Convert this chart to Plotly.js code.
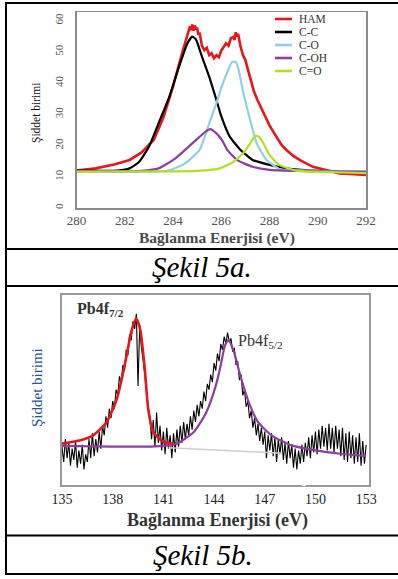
<!DOCTYPE html>
<html>
<head>
<meta charset="utf-8">
<script src="https://cdn.plot.ly/plotly-3.0.1.min.js"></script>
<style>html,body{margin:0;padding:0;background:#fff;}#chart{width:398px;height:579px;}</style>
</head>
<body>
<div id="chart"></div>
<script>
// ---------- Şekil 5a : C1s ----------
const seriesNames = ["HAM", "C-C", "C-O", "C-OH", "C=O"];
const seriesColors = ["#e8161b", "#000000", "#8fd0e6", "#8e3f9f", "#b3e021"];

const hamX = [280, 280.8, 281.6, 282.2, 282.7, 283.2, 283.6, 284.0, 284.3, 284.5, 284.6, 284.7, 284.75, 284.8, 284.85, 284.9, 284.95, 285.0, 285.05, 285.1, 285.2, 285.3, 285.4, 285.5, 285.6, 285.7, 285.8, 285.9, 286.0, 286.1, 286.2, 286.3, 286.4, 286.5, 286.55, 286.6, 286.65, 286.7, 286.8, 286.9, 287.0, 287.1, 287.2, 287.35, 287.5, 287.75, 288.0, 288.2, 288.5, 288.7, 289.0, 289.3, 289.6, 289.8, 290.0, 290.4, 290.9, 291.5, 292];
const hamY = [12.0, 12.7, 14.0, 15.4, 17.8, 21.8, 29.0, 38.9, 47.5, 53.0, 55.5, 58.2, 57.0, 58.8, 56.8, 58.5, 57.2, 57.8, 55.5, 56.2, 52.0, 50.6, 51.3, 49.0, 49.6, 48.0, 49.0, 48.3, 50.4, 51.5, 52.8, 52.0, 54.4, 54.8, 53.8, 56.3, 55.0, 55.8, 51.7, 49.0, 47.4, 44.5, 41.5, 37.5, 34.6, 30.3, 26.5, 23.9, 20.2, 18.6, 16.6, 15.2, 14.0, 13.2, 12.8, 12.0, 11.1, 10.8, 10.6];

const ccX = [280, 281.7, 282.2, 282.6, 283.0, 283.4, 283.85, 284.25, 284.6, 284.8, 284.95, 285.2, 285.5, 285.8, 286.0, 286.35, 286.8, 287.3, 288.0, 288.7, 289.8, 292];
const ccY = [12.0, 12.0, 12.7, 14.8, 19.6, 27.1, 35.7, 45.3, 52.8, 54.9, 54.0, 48.5, 42.1, 34.6, 29.4, 22.9, 18.6, 15.4, 13.8, 12.7, 12.0, 11.7];

const coX = [280, 283.8, 284.5, 285.1, 285.5, 285.8, 286.0, 286.25, 286.45, 286.6, 286.72, 286.92, 287.2, 287.47, 287.88, 288.45, 289.5, 292];
const coY = [11.8, 12.0, 14.3, 18.6, 27.1, 33.6, 38.5, 43.5, 46.8, 46.8, 44.2, 36.8, 28.2, 20.7, 15.4, 12.4, 12.0, 11.8];

const cohX = [280, 282.7, 283.4, 284.1, 284.8, 285.35, 285.55, 285.8, 286.05, 286.25, 286.65, 287.3, 288.0, 289.0, 292];
const cohY = [11.8, 11.9, 12.7, 15.9, 20.7, 24.5, 25.3, 23.9, 21.5, 18.6, 15.4, 13.2, 12.2, 11.9, 11.6];

const cdoX = [280, 285.0, 285.95, 286.5, 286.9, 287.2, 287.4, 287.55, 287.75, 288.0, 288.4, 289.1, 290.5, 292];
const cdoY = [11.7, 11.9, 12.7, 14.8, 17.5, 20.7, 23.1, 22.9, 20.7, 17.0, 13.8, 12.0, 11.5, 11.2];

const xTicksA = [280, 282, 284, 286, 288, 290, 292];
const yTicksA = [0, 10, 20, 30, 40, 50, 60];

// ---------- Şekil 5b : Pb4f ----------
const pbX0 = 135, pbDx = 0.1;
const pbData = [
 20,12,24,14,22,10,19,13,23,9,
 18,11,21,8,16,12,24,14,27,15,
 24,17,28,19,31,26,36,30,40,35,
 44,40,50,47,57,53,63,60,71,68,
 79,76,86,82,90,52,84,72,66,58,
 48,41,36,24,34,20,38,22,31,18,
 28,16,30,19,26,14,27,17,29,20,
 31,22,33,24,32,26,36,29,39,33,
 42,36,44,40,49,44,53,50,58,54,
 64,60,69,65,74,71,78,74,80,75,
 77,70,72,63,65,55,58,47,50,41,
 44,35,39,30,35,26,32,23,30,21,
 28,14,26,18,27,15,25,12,24,16,
 25,13,22,11,23,14,21,9,19,8,
 18,11,21,12,22,15,25,14,26,17,
 28,16,29,19,31,20,30,18,32,19,
 30,17,31,19,29,15,30,13,27,12,
 28,14,26,11,25,12,27,10,23,11,
 21];

const fit72X = [135, 136.1, 136.85, 137.65, 138.25, 138.75, 139.1, 139.38, 139.62, 139.9, 140.1, 140.4, 141.0, 141.6];
const fit72Y = [21.6, 23.4, 26, 33, 45.3, 64.6, 80.4, 87.4, 82.1, 61, 40, 27.7, 22.5, 21.6];

const envX = [135, 137, 139, 140.5, 141.4, 141.8, 142.8, 143.55, 144.1, 144.4, 144.65, 144.85, 145.15, 145.55, 146.05, 146.6, 147.4, 148.6, 150, 151.5, 153];
const envY = [20.4, 20.2, 20.0, 20.2, 20.8, 21.6, 27.7, 38.3, 52, 63, 73.4, 76, 70.7, 57.6, 43.5, 33, 26, 20.7, 18.1, 16.3, 15.1];

const bgX = [141.3, 144, 148];
const bgY = [19.4, 18.3, 16.6];

const xTicksB = [135, 138, 141, 144, 147, 150, 153];
const peakLabels = ["Pb4f<sub>7/2</sub>", "Pb4f<sub>5/2</sub>"];
const peakLabelX = [135.75, 145.3];
const peakLabelY = [92, 75.5];

const axisTitle = "Bağlanma Enerjisi (eV)";
const yTitle = "Şiddet birimi";
const captions = ["Şekil 5a.", "Şekil 5b."];

// ---------- build ----------
const SERIF = 'Liberation Serif, Times New Roman, DejaVu Serif, serif';
const W = 398, H = 579;
const px = v => v / W;
const py = v => 1 - v / H;

const aX = [hamX, ccX, coX, cohX, cdoX];
const aY = [hamY, ccY, coY, cohY, cdoY];
const traces = [];
for (let i = 0; i < seriesNames.length; i++) {
  traces.push({
    x: aX[i], y: aY[i], type: 'scatter', mode: 'lines', name: seriesNames[i],
    line: {color: seriesColors[i], width: i === 0 ? 2.6 : 2.2, shape: i === 0 ? 'linear' : 'spline', smoothing: 0.5},
    xaxis: 'x', yaxis: 'y', showlegend: false, hoverinfo: 'skip'
  });
}
traces.push({y: pbData, x0: pbX0, dx: pbDx, type: 'scatter', mode: 'lines', line: {color: '#000', width: 1.1}, xaxis: 'x2', yaxis: 'y2', showlegend: false});
traces.push({x: bgX, y: bgY, type: 'scatter', mode: 'lines', line: {color: '#cfcfcf', width: 1.5}, xaxis: 'x2', yaxis: 'y2', showlegend: false});
traces.push({x: envX, y: envY, type: 'scatter', mode: 'lines', line: {color: '#8e3f9f', width: 2.2, shape: 'spline', smoothing: 0.6}, xaxis: 'x2', yaxis: 'y2', showlegend: false});
traces.push({x: fit72X, y: fit72Y, type: 'scatter', mode: 'lines', line: {color: '#e8161b', width: 2.6, shape: 'spline', smoothing: 0.6}, xaxis: 'x2', yaxis: 'y2', showlegend: false});

const shapes = [];
const annotations = [];
// table lines
[3, 249, 286, 535.5, 574].forEach(yy => shapes.push({type: 'line', xref: 'paper', yref: 'paper', x0: px(5), x1: 1, y0: py(yy), y1: py(yy), line: {color: '#000', width: 2}}));
shapes.push({type: 'line', xref: 'paper', yref: 'paper', x0: px(6), x1: px(6), y0: py(2), y1: py(575), line: {color: '#000', width: 2}});
// gap in bottom frame of 5b
shapes.push({type: 'line', xref: 'x2', yref: 'paper', x0: 149.2, x1: 149.42, y0: py(484.7), y1: py(484.7), line: {color: '#fff', width: 3}, layer: 'above'});

function note(x, y, text, font, extra) {
  annotations.push(Object.assign({xref: 'paper', yref: 'paper', x: x, y: y, xanchor: 'center', yanchor: 'middle', showarrow: false, text: text, font: font}, extra || {}));
}
// custom legend for 5a
for (let i = 0; i < seriesNames.length; i++) {
  const yy = 19 + i * 13;
  shapes.push({type: 'line', xref: 'paper', yref: 'paper', x0: px(275), x1: px(292), y0: py(yy), y1: py(yy), line: {color: seriesColors[i], width: 2.6}});
  note(px(297), py(yy), seriesNames[i], {family: SERIF, size: 11.5, color: '#333'}, {xanchor: 'left'});
}
// titles
note(px(37), py(113), yTitle, {family: SERIF, size: 11.5, color: '#111'}, {textangle: -90});
note(px(217), py(238), axisTitle, {family: SERIF, size: 15.5, color: '#4a4a4a', weight: 'bold'});
note(px(37), py(388), yTitle, {family: SERIF, size: 15, color: '#2a5699'}, {textangle: -90});
note(px(217), py(520), axisTitle, {family: SERIF, size: 18, color: '#333', weight: 'bold'});
note(px(202), py(267), captions[0], {family: SERIF, size: 29, color: '#000', style: 'italic'});
note(px(203), py(555), captions[1], {family: SERIF, size: 29, color: '#000', style: 'italic'});
for (let i = 0; i < peakLabels.length; i++) {
  annotations.push({xref: 'x2', yref: 'y2', x: peakLabelX[i], y: peakLabelY[i], xanchor: 'left', yanchor: 'middle', showarrow: false, text: peakLabels[i], font: {family: SERIF, size: 16, color: '#333', weight: i === 0 ? 'bold' : 'normal'}});
}

const frame = {showline: true, mirror: true, linecolor: '#8a8a8a', linewidth: 1.5, showgrid: false, zeroline: false, ticks: ''};
const layout = {
  width: W, height: H, autosize: false,
  margin: {l: 0, r: 0, t: 0, b: 0},
  paper_bgcolor: '#fff', plot_bgcolor: '#fff',
  showlegend: false,
  font: {family: SERIF},
  xaxis: Object.assign({}, frame, {domain: [px(76.5), px(366)], range: [280, 292], tickvals: xTicksA, ticklabelstandoff: 0, tickfont: {family: SERIF, size: 13, color: '#555'}, anchor: 'y'}),
  yaxis: Object.assign({}, frame, {domain: [py(208), py(12)], range: [0, 62.8], tickvals: yTicksA, tickangle: -90, ticklabelstandoff: 8, tickfont: {family: SERIF, size: 11, color: '#555'}, anchor: 'x'}),
  xaxis2: Object.assign({}, frame, {domain: [px(62), px(369)], range: [135, 153.17], tickvals: xTicksB, ticklabelstandoff: 0, tickfont: {family: SERIF, size: 14, color: '#222'}, anchor: 'y2', linewidth: 2, linecolor: '#999'}),
  yaxis2: Object.assign({}, frame, {domain: [py(484.7), py(294.7)], range: [0, 100], showticklabels: false, anchor: 'x2', linewidth: 2, linecolor: '#999'}),
  shapes: shapes,
  annotations: annotations
};
Plotly.newPlot('chart', traces, layout, {staticPlot: true, displayModeBar: false});
</script>
</body>
</html>
